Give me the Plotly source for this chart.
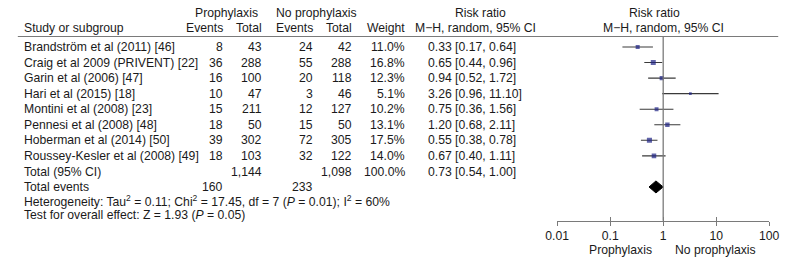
import plotly.graph_objects as go

# ---------------- data ----------------
studies = [
    "Brandström et al (2011) [46]",
    "Craig et al 2009 (PRIVENT) [22]",
    "Garin et al (2006) [47]",
    "Hari et al (2015) [18]",
    "Montini et al (2008) [23]",
    "Pennesi et al (2008) [48]",
    "Hoberman et al (2014) [50]",
    "Roussey-Kesler et al (2008) [49]",
]
events_proph = [8, 36, 16, 10, 15, 18, 39, 18]
total_proph = [43, 288, 100, 47, 211, 50, 302, 103]
events_noproph = [24, 55, 20, 3, 12, 15, 72, 32]
total_noproph = [42, 288, 118, 46, 127, 50, 305, 122]
weights = [11.0, 16.8, 12.3, 5.1, 10.2, 13.1, 17.5, 14.0]
rr = [0.33, 0.65, 0.94, 3.26, 0.75, 1.20, 0.55, 0.67]
rr_lo = [0.17, 0.44, 0.52, 0.96, 0.36, 0.68, 0.38, 0.40]
rr_hi = [0.64, 0.96, 1.72, 11.10, 1.56, 2.11, 0.78, 1.11]

total_n_proph = 1144
total_n_noproph = 1098
total_events_proph = 160
total_events_noproph = 233
total_weight = 100.0
pooled_rr = 0.73
pooled_lo = 0.54
pooled_hi = 1.00

tick_vals = [0.01, 0.1, 1, 10, 100]
tick_text = ["0.01", "0.1", "1", "10", "100"]

heterogeneity = ("Heterogeneity: Tau<sup>2</sup> = 0.11; Chi<sup>2</sup> = 17.45, df = 7 "
                 "(<i>P</i> = 0.01); I<sup>2</sup> = 60%")
overall = "Test for overall effect: Z = 1.93 (<i>P</i> = 0.05)"

# ---------------- layout helpers ----------------
W, H = 796, 263
FONT = "Liberation Sans, Arial, sans-serif"
TXT = "#1a1a1a"
GREY = "#7a7a7a"
FS = 12.2

ROW0, ROWH = 47.0, 15.55       # pixel y of first study row, row height
AXIS_PX = 220.7                 # pixel y of forest x-axis line
X_LEFT_PX, X_RIGHT_PX = 560.7, 778.7

def px(x):
    return x / W

def py(y):
    return 1 - y / H

def row_px(r):
    return ROW0 + ROWH * r

y_top = (0 - ROW0) / ROWH
y_bot = (AXIS_PX - ROW0) / ROWH

fig = go.Figure()

rows = list(range(len(studies)))

# CI lines
ci_x, ci_y = [], []
for r, lo, hi in zip(rows, rr_lo, rr_hi):
    ci_x += [lo, hi, None]
    ci_y += [r, r, None]
fig.add_trace(go.Scatter(x=ci_x, y=ci_y, mode="lines",
                         line=dict(color="#3a3a3a", width=1.1),
                         hoverinfo="skip", showlegend=False))

# weighted squares
fig.add_trace(go.Scatter(
    x=rr, y=rows, mode="markers",
    marker=dict(symbol="square", color="#1e2285",
                size=[1.22 * w ** 0.5 for w in weights],
                line=dict(width=0)),
    showlegend=False))

# pooled diamond
d_row = 9.0
d_h = 6.0 / ROWH
fig.add_trace(go.Scatter(
    x=[pooled_lo, pooled_rr, pooled_hi, pooled_rr, pooled_lo],
    y=[d_row, d_row - d_h, d_row, d_row + d_h, d_row],
    mode="lines", fill="toself", fillcolor="black",
    line=dict(color="black", width=1), showlegend=False))

# invisible trace for the overlay axis (inside ticks)
fig.add_trace(go.Scatter(x=[1], y=[0], xaxis="x2", mode="markers",
                         marker=dict(opacity=0), showlegend=False,
                         hoverinfo="skip"))

dom = [px(X_LEFT_PX), px(X_RIGHT_PX)]
fig.update_layout(
    width=W, height=H,
    margin=dict(l=0, r=0, t=0, b=0),
    paper_bgcolor="white", plot_bgcolor="white",
    font=dict(family=FONT, size=FS, color=TXT),
    xaxis=dict(type="log", domain=dom, range=[-2, 2],
               tickvals=tick_vals, ticktext=tick_text,
               ticks="outside", ticklen=4, tickcolor=GREY, tickwidth=1.3,
               showline=True, linecolor=GREY, linewidth=1.3,
               showgrid=False, zeroline=False,
               tickfont=dict(family=FONT, size=FS, color=TXT)),
    xaxis2=dict(type="log", domain=dom, range=[-2, 2], overlaying="x",
                anchor="y", tickvals=tick_vals, ticks="inside", ticklen=4,
                tickcolor=GREY, tickwidth=1.3, showticklabels=False,
                showline=False, showgrid=False, zeroline=False),
    yaxis=dict(domain=[py(AXIS_PX), 1], range=[y_bot, y_top],
               visible=False, showgrid=False, zeroline=False),
    showlegend=False,
)

# reference line at RR = 1
fig.add_shape(type="line", xref="x", yref="paper", x0=1, x1=1,
              y0=py(AXIS_PX), y1=py(36.5), line=dict(color=GREY, width=1.3))
# header rule
fig.add_shape(type="line", xref="paper", yref="paper", x0=px(6), x1=px(788),
              y0=py(36.5), y1=py(36.5), line=dict(color=GREY, width=1))

def txt(s, x, y, anchor="left"):
    fig.add_annotation(text=s, x=px(x), y=py(y), xref="paper", yref="paper",
                       xanchor=anchor, yanchor="middle", showarrow=False,
                       font=dict(family=FONT, size=FS, color=TXT))

# headers
txt("Prophylaxis", 220.5, 12.5, "center")
txt("No prophylaxis", 313.5, 12.5, "center")
txt("Risk ratio", 481.7, 12.5, "center")
txt("Risk ratio", 660.5, 12.5, "center")
txt("Study or subgroup", 10, 28)
txt("Events", 219.5, 28, "right")
txt("Total", 259.5, 28, "right")
txt("Events", 311.7, 28, "right")
txt("Total", 351.7, 28, "right")
txt("Weight", 406, 28, "right")
txt("M\u2212H, random, 95% CI", 476.7, 28, "center")
txt("M\u2212H, random, 95% CI", 669.8, 28, "center")

# study rows
for r in rows:
    y = row_px(r)
    txt(studies[r], 10, y)
    txt(str(events_proph[r]), 219.5, y, "right")
    txt(str(total_proph[r]), 259.5, y, "right")
    txt(str(events_noproph[r]), 311.7, y, "right")
    txt(str(total_noproph[r]), 351.7, y, "right")
    txt(f"{weights[r]:.1f}%", 406, y, "right")
    txt(f"{rr[r]:.2f} [{rr_lo[r]:.2f}, {rr_hi[r]:.2f}]", 426, y)

# totals
y_tot = 172
txt("Total (95% CI)", 10, y_tot)
txt(f"{total_n_proph:,}", 259.5, y_tot, "right")
txt(f"{total_n_noproph:,}", 351.7, y_tot, "right")
txt(f"{total_weight:.1f}%", 406, y_tot, "right")
txt(f"{pooled_rr:.2f} [{pooled_lo:.2f}, {pooled_hi:.2f}]", 426, y_tot)
y_ev = 186.5
txt("Total events", 10, y_ev)
txt(str(total_events_proph), 219.5, y_ev, "right")
txt(str(total_events_noproph), 311.7, y_ev, "right")
txt(heterogeneity, 10, 200.5)
txt(overall, 10, 215)

# favours labels
txt("Prophylaxis", 660, 250, "right")
txt("No prophylaxis", 680, 250, "left")

fig.write_html(
    "out.html",
    config={"displayModeBar": False},
    post_script="document.body.style.margin='0';document.body.style.padding='0';",
)
